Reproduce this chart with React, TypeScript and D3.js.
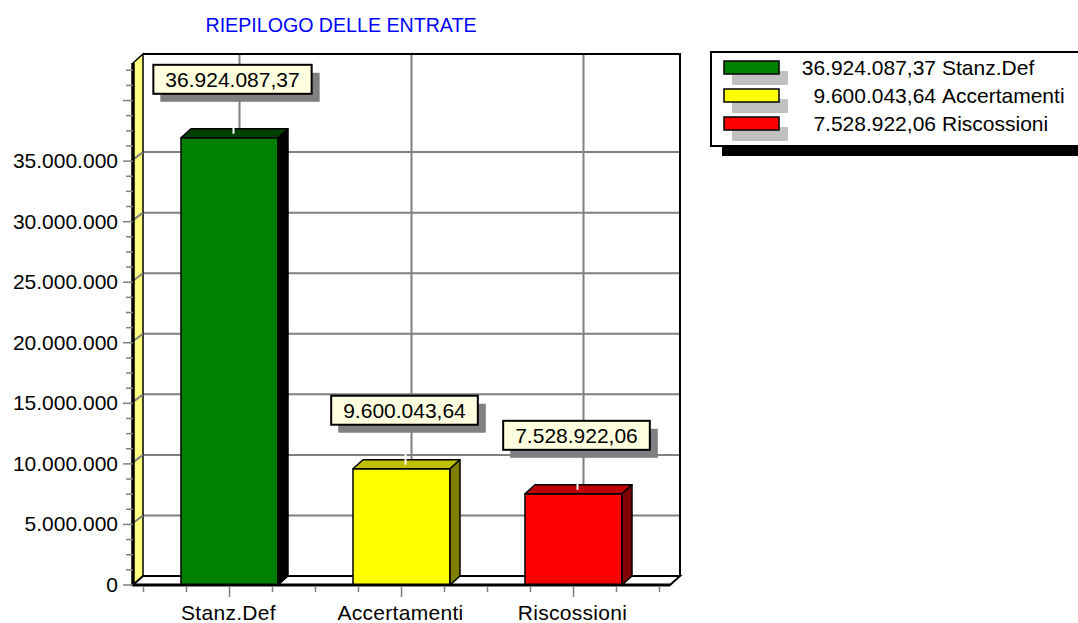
import { useEffect, useRef } from 'react';
import * as d3 from 'd3';

const categories = ['Stanz.Def', 'Accertamenti', 'Riscossioni'];
const values = [36924087.37, 9600043.64, 7528922.06];
const frontColors = ['#008000', '#ffff00', '#ff0000'];
const topColors = ['#004000', '#c0c000', '#c00000'];
const sideColors = ['#000000', '#808000', '#800000'];
const majorTicks = [0, 5000000, 10000000, 15000000, 20000000, 25000000, 30000000, 35000000];
const title = 'RIEPILOGO DELLE ENTRATE';

const W = 1078;
const H = 623;
const FONT = '"Liberation Sans", Arial, sans-serif';

export default function App() {
  const svgRef = useRef<SVGSVGElement>(null);

  useEffect(() => {
    if (!svgRef.current) return;
    const svg = d3.select(svgRef.current);
    svg.selectAll('*').remove();

    const it = d3.formatLocale({ decimal: ',', thousands: '.', grouping: [3], currency: ['', ''] });
    const fmtVal = it.format(',.2f');
    const fmtTick = it.format(',d');

    // geometria 3D
    const dx = 10;
    const dy = -9;
    const left = 133;
    const right = 670;
    const base = 585;
    const yMax = 43100000;

    const y = d3.scaleLinear().domain([0, yMax]).range([base, 63]);
    const x = d3.scaleBand<string>()
      .domain(categories)
      .range([143.5, 659.5])
      .paddingInner(0.436)
      .paddingOuter(0.218);
    const step = x.step();
    const center = (c: string) => (x(c) as number) + x.bandwidth() / 2;

    // titolo
    svg.append('text')
      .attr('x', 341)
      .attr('y', 32)
      .attr('text-anchor', 'middle')
      .attr('fill', '#0000ff')
      .attr('font-family', FONT)
      .attr('font-size', 20)
      .attr('textLength', 271)
      .attr('lengthAdjust', 'spacingAndGlyphs')
      .text(title);

    // parete di fondo
    const backTop = y(yMax) + dy;
    const backBottom = base + dy;
    svg.append('rect')
      .attr('x', left + dx)
      .attr('y', backTop)
      .attr('width', right - left)
      .attr('height', backBottom - backTop)
      .attr('fill', '#fff');

    const grid = svg.append('g').attr('stroke', '#808080').attr('stroke-width', 2).attr('fill', 'none');
    majorTicks.filter(d => d > 0).forEach(d => {
      grid.append('line')
        .attr('x1', left + dx).attr('x2', right + dx)
        .attr('y1', y(d) + dy).attr('y2', y(d) + dy);
    });
    categories.forEach(c => {
      grid.append('line')
        .attr('x1', center(c) + dx).attr('x2', center(c) + dx)
        .attr('y1', backTop).attr('y2', backBottom);
    });

    // bordo parete di fondo
    svg.append('path')
      .attr('d', `M${left + dx},${backTop}H${right + dx}V${backBottom}`)
      .attr('fill', 'none')
      .attr('stroke', '#000')
      .attr('stroke-width', 2);

    // parete sinistra
    svg.append('path')
      .attr('d', `M${left},${base}V${y(yMax)}L${left + dx},${backTop}V${backBottom}Z`)
      .attr('fill', '#ffff80')
      .attr('stroke', '#000')
      .attr('stroke-width', 1.5);

    // diagonali sulla parete sinistra
    majorTicks.filter(d => d > 0).forEach(d => {
      svg.append('line')
        .attr('x1', left - 2).attr('y1', y(d))
        .attr('x2', left + dx).attr('y2', y(d) + dy)
        .attr('stroke', '#808080')
        .attr('stroke-width', 2);
    });

    // pavimento
    svg.append('path')
      .attr('d', `M${left},${base}H${right}L${right + dx},${base + dy}H${left + dx}Z`)
      .attr('fill', '#fff')
      .attr('stroke', '#000')
      .attr('stroke-width', 2);

    // barre
    const bars = svg.append('g').attr('stroke', '#000').attr('stroke-width', 1.5).attr('stroke-linejoin', 'round');
    categories.forEach((c, i) => {
      const x0 = x(c) as number;
      const x1 = x0 + x.bandwidth();
      const y0 = y(values[i]);
      bars.append('rect')
        .attr('x', x0).attr('y', y0)
        .attr('width', x1 - x0).attr('height', base - y0)
        .attr('fill', frontColors[i]);
      bars.append('path')
        .attr('d', `M${x0},${y0}L${x0 + dx},${y0 + dy}H${x1 + dx}L${x1},${y0}Z`)
        .attr('fill', topColors[i]);
      bars.append('path')
        .attr('d', `M${x1},${y0}L${x1 + dx},${y0 + dy}V${base + dy}L${x1},${base}Z`)
        .attr('fill', sideColors[i]);
    });

    // assi frontali
    svg.append('line')
      .attr('x1', left).attr('x2', left)
      .attr('y1', y(yMax)).attr('y2', base + 1)
      .attr('stroke', '#000').attr('stroke-width', 3.5);
    svg.append('line')
      .attr('x1', left).attr('x2', right)
      .attr('y1', base).attr('y2', base)
      .attr('stroke', '#000').attr('stroke-width', 3);

    // tacche asse Y
    const minor = d3.range(0, yMax, 1250000);
    svg.append('g').selectAll('line')
      .data(minor)
      .enter()
      .append('line')
      .attr('x1', d => (d % 5000000 === 0 ? 123 : 126))
      .attr('x2', left)
      .attr('y1', d => y(d))
      .attr('y2', d => y(d))
      .attr('stroke', '#808080')
      .attr('stroke-width', 1.5);

    svg.append('g').selectAll('text')
      .data(majorTicks)
      .enter()
      .append('text')
      .attr('x', 118)
      .attr('y', d => y(d) + 7)
      .attr('text-anchor', 'end')
      .attr('font-family', FONT)
      .attr('font-size', 21)
      .attr('fill', '#000')
      .text(d => fmtTick(d));

    // tacche asse X
    const xTicks = d3.range(0, categories.length * 4 + 1);
    svg.append('g').selectAll('line')
      .data(xTicks)
      .enter()
      .append('line')
      .attr('x1', k => 143.5 + (k * step) / 4)
      .attr('x2', k => 143.5 + (k * step) / 4)
      .attr('y1', base + 2)
      .attr('y2', k => (k % 4 === 2 ? base + 12 : base + 7))
      .attr('stroke', '#808080')
      .attr('stroke-width', 1.5);

    svg.append('g').selectAll('text')
      .data(categories)
      .enter()
      .append('text')
      .attr('x', d => center(d) - 1)
      .attr('y', 620)
      .attr('text-anchor', 'middle')
      .attr('font-family', FONT)
      .attr('font-size', 21)
      .attr('letter-spacing', 0.3)
      .attr('fill', '#000')
      .text(d => d);

    // etichette valori
    categories.forEach((c, i) => {
      const cx = center(c) + 3;
      const yTop = y(values[i]);
      const boxBottom = yTop - 44;
      const boxH = 29;
      const g = svg.append('g');
      const shadow = g.append('rect').attr('fill', '#808080');
      const box = g.append('rect').attr('fill', '#ffffe0').attr('stroke', '#000').attr('stroke-width', 2);
      const t = g.append('text')
        .attr('x', cx)
        .attr('y', boxBottom - 7)
        .attr('text-anchor', 'middle')
        .attr('font-family', FONT)
        .attr('font-size', 21)
        .attr('fill', '#000')
        .text(fmtVal(values[i]));
      const tw = (t.node() as SVGTextElement).getComputedTextLength();
      const bw = tw + 24;
      box.attr('x', cx - bw / 2).attr('y', boxBottom - boxH).attr('width', bw).attr('height', boxH);
      shadow.attr('x', cx - bw / 2 + 7).attr('y', boxBottom - boxH + 8).attr('width', bw + 1).attr('height', boxH);
      svg.insert('line', () => g.node() as any)
        .attr('x1', center(c) + 4).attr('x2', center(c) + 4)
        .attr('y1', boxBottom).attr('y2', yTop - 4)
        .attr('stroke', '#fff')
        .attr('stroke-width', 2);
    });

    // legenda
    const lg = svg.append('g');
    lg.append('rect')
      .attr('x', 722).attr('y', 62)
      .attr('width', 400).attr('height', 94)
      .attr('fill', '#000');
    lg.append('rect')
      .attr('x', 711).attr('y', 52)
      .attr('width', 400).attr('height', 94)
      .attr('fill', '#fff')
      .attr('stroke', '#000')
      .attr('stroke-width', 2);
    categories.forEach((c, i) => {
      const sy = 61 + i * 28;
      lg.append('rect')
        .attr('x', 732).attr('y', sy + 10)
        .attr('width', 56).attr('height', 14)
        .attr('fill', '#c0c0c0');
      lg.append('rect')
        .attr('x', 724).attr('y', sy)
        .attr('width', 55).attr('height', 13)
        .attr('fill', frontColors[i])
        .attr('stroke', '#000')
        .attr('stroke-width', 1.5);
      lg.append('text')
        .attr('x', 936).attr('y', sy + 14)
        .attr('text-anchor', 'end')
        .attr('font-family', FONT)
        .attr('font-size', 21)
        .attr('fill', '#000')
        .text(fmtVal(values[i]));
      lg.append('text')
        .attr('x', 942).attr('y', sy + 14)
        .attr('font-family', FONT)
        .attr('font-size', 21)
        .attr('fill', '#000')
        .text(c);
    });
  }, []);

  return (
    <svg
      ref={svgRef}
      width={W}
      height={H}
      style={{ position: 'absolute', left: 0, top: 0, background: '#fff' }}
    />
  );
}
